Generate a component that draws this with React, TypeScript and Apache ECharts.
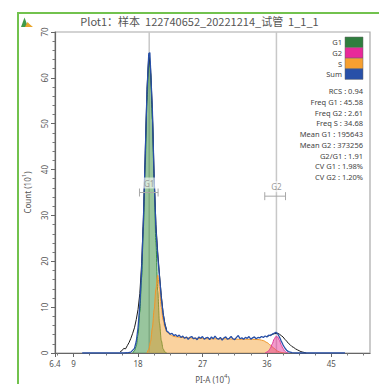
import React, { useEffect, useRef } from "react";
import * as echarts from "echarts";

const titleText = "Plot1：样本  122740652_20221214_试管  1_1_1";
const X_MIN = 6.4;
const X_MAX = 50.4;
const Y_MAX = 70;
const xTickValues = [6.4, 9, 18, 27, 36, 45];
const xMinorTicks = [6.75, 11.25, 13.5, 15.75, 20.25, 22.5, 24.75, 29.25, 31.5, 33.75, 38.25, 40.5, 42.75, 47.25, 49.5];

// Sum (blue) histogram
const sumCurve: number[][] = [
  [10.2, 0], [12, 0], [14, 0], [15, 0], [16, 0], [16.5, 0.05], [17, 0.2], [17.5, 1.0], [17.75, 2.5],
  [18, 5.5], [18.25, 10.5], [18.5, 18], [18.75, 29], [19, 43], [19.25, 57], [19.5, 65.3], [19.65, 65.5],
  [19.75, 62], [20, 53], [20.25, 38], [20.5, 27], [20.75, 21], [21, 16.5], [21.25, 12], [21.5, 8.5],
  [21.75, 6.2], [22, 4.8], [22.25, 4.5], [22.5, 4.1], [22.75, 4.3], [23, 3.8], [23.25, 4.0], [23.5, 3.6],
  [23.75, 3.9], [24, 3.4], [24.25, 3.7], [24.5, 3.2], [24.75, 3.5], [25, 3.0], [25.25, 3.4], [25.5, 3.6],
  [25.75, 3.1], [26, 3.3], [26.25, 2.9], [26.5, 3.5], [26.75, 3.2], [27, 3.6], [27.25, 3.0], [27.5, 3.3],
  [27.75, 3.4], [28, 2.9], [28.25, 3.5], [28.5, 3.1], [28.75, 3.7], [29, 3.2], [29.25, 3.0], [29.5, 3.4],
  [29.75, 2.8], [30, 3.3], [30.25, 3.5], [30.5, 3.0], [30.75, 3.2], [31, 3.6], [31.25, 3.1], [31.5, 2.9],
  [31.75, 3.4], [32, 3.8], [32.25, 3.1], [32.5, 3.3], [32.75, 3.0], [33, 3.4], [33.25, 3.2], [33.5, 3.6],
  [33.75, 3.0], [34, 3.3], [34.25, 3.5], [34.5, 3.1], [34.75, 3.4], [35, 3.3], [35.25, 3.6], [35.5, 3.4],
  [35.75, 3.7], [36, 3.5], [36.25, 3.9], [36.5, 3.8], [36.75, 4.1], [37, 4.3], [37.25, 4.5], [37.5, 4.2],
  [37.75, 3.5], [38, 2.6], [38.25, 1.8], [38.5, 1.1], [38.75, 0.6], [39, 0.3], [39.5, 0.1], [40, 0],
  [44, 0], [46.9, 0],
];

// Raw data (black) – visible at feet of the peaks
const rawCurve: (number | null)[][] = [
  [15.5, 0.3], [15.75, 0.5], [16, 1.0], [16.25, 0.9], [16.5, 1.6], [16.75, 2.3], [17, 3.2], [17.25, 4.3],
  [17.5, 5.5], [17.75, 7.3], [18, 9.5], [18.25, 13], [18.5, 19.5], [18.75, 29.5], [19, 43.5], [19.25, 57.5],
  [19.5, 65], [19.75, 62], [20, 53], [20.25, 38.5], [20.5, 28], [20.75, 22], [21, 17], [21.25, 12.5],
  [21.5, 8.8], [21.75, 6.4], [22, 5.0], [29, null], [36, 3.6], [36.5, 3.9], [37, 4.2], [37.5, 4.3],
  [37.75, 4.1], [38, 3.8], [38.25, 3.5], [38.5, 3.0], [38.75, 2.6], [39, 2.1], [39.25, 1.8], [39.5, 1.4],
  [39.75, 1.2], [40, 0.9], [40.25, 0.7], [40.5, 0.5], [40.75, 0.3], [41, 0.2], [41.5, 0],
];

// G1 fit (green)
const g1Curve: number[][] = [
  [17.25, 0], [17.5, 0.5], [17.75, 1.5], [18, 4], [18.25, 9], [18.5, 16.5], [18.75, 27.5], [19, 41],
  [19.25, 55], [19.5, 63.5], [19.6, 64.5], [19.75, 61], [20, 51], [20.25, 37], [20.5, 24], [20.75, 13.5],
  [21, 6.5], [21.25, 2.7], [21.5, 0.9], [21.75, 0.2], [22, 0],
];

// S fit (orange)
const sCurve: number[][] = [
  [19.25, 0], [19.5, 0.8], [19.75, 2.5], [20, 5.5], [20.25, 9.5], [20.5, 14], [20.75, 17], [21, 14],
  [21.25, 10], [21.5, 7.2], [21.75, 5.6], [22, 4.6], [22.5, 4.0], [23, 3.6], [24, 3.4], [26, 3.2],
  [28, 3.1], [30, 3.1], [32, 3.0], [34, 3.0], [35, 2.9], [35.5, 2.7], [36, 2.3], [36.5, 1.7], [37, 1.0],
  [37.5, 0.4], [38, 0.1], [38.5, 0],
];

// G2 fit (pink)
const g2Curve: number[][] = [
  [35.75, 0], [36, 0.2], [36.25, 0.5], [36.5, 1.1], [36.75, 2.0], [37, 3.0], [37.25, 3.6], [37.5, 3.5],
  [37.75, 2.8], [38, 1.8], [38.25, 1.0], [38.5, 0.4], [38.75, 0.1], [39, 0],
];

const gateNames = ["G1", "G2"];
const gateCenters = [19.56, 37.33];
const gateLow = [18.2, 35.7];
const gateHigh = [20.8, 38.6];
const gateLevel = [35.0, 34.2];

const legendNames = ["G1", "G2", "S", "Sum"];
const legendColors = ["#2f7d3e", "#e8299a", "#f7a030", "#2850a8"];
const statLines = [
  "RCS : 0.94",
  "Freq G1 : 45.58",
  "Freq G2 : 2.61",
  "Freq S : 34.68",
  "Mean G1 : 195643",
  "Mean G2 : 373256",
  "G2/G1 : 1.91",
  "CV G1 : 1.98%",
  "CV G2 : 1.20%",
];

const FONT = "'Noto Sans', 'DejaVu Sans', sans-serif";

export default function App() {
  const ref = useRef<HTMLDivElement>(null);
  useEffect(() => {
    if (!ref.current) return;
    const chart = echarts.init(ref.current, undefined, { renderer: "svg" });

    const graphics: any[] = [
      {
        type: "rect",
        shape: { x: 18, y: 13, width: 380, height: 390 },
        style: { fill: "none", stroke: "#72c24e", lineWidth: 2 },
        z: 100,
      },
      {
        type: "polygon",
        shape: { points: [[21, 27], [24.5, 17.5], [28, 27]] },
        style: { fill: "#3f9a4a" },
      },
      {
        type: "polygon",
        shape: { points: [[25, 27], [27.5, 22], [30, 24.5], [33, 27]] },
        style: { fill: "#e9a52a" },
      },
      {
        type: "text",
        x: 199.5,
        y: 21,
        style: {
          text: titleText,
          font: "11px 'Noto Sans CJK SC', sans-serif",
          fill: "#555",
          align: "center",
          verticalAlign: "middle",
        },
      },
    ];
    legendNames.forEach((n, i) => {
      const top = 37 + i * 10.6;
      graphics.push({
        type: "rect",
        shape: { x: 345, y: top, width: 18, height: 10.6 },
        style: { fill: legendColors[i], stroke: "#666", lineWidth: 0.5 },
      });
      graphics.push({
        type: "text",
        x: 342,
        y: top + 5.3,
        style: { text: n, font: `7.5px ${FONT}`, fill: "#444", align: "right", verticalAlign: "middle" },
      });
    });
    statLines.forEach((t, i) => {
      graphics.push({
        type: "text",
        x: 363,
        y: 91 + i * 10.75,
        style: { text: t, font: `7.5px ${FONT}`, fill: "#444", align: "right", verticalAlign: "middle" },
      });
    });

    const areaLine = (name: string, data: any[], line: string, fill: string, z: number) => ({
      name,
      type: "line",
      data,
      symbol: "none",
      showSymbol: false,
      smooth: 0.3,
      smoothMonotone: "x",
      lineStyle: { color: line, width: 1 },
      areaStyle: { color: fill },
      itemStyle: { color: line },
      z,
    });

    chart.setOption({
      animation: false,
      backgroundColor: "#fff",
      grid: {
        left: 55,
        right: 9,
        top: 32,
        bottom: 31,
        show: true,
        borderColor: "#a8a8a8",
        borderWidth: 1.2,
        containLabel: false,
        outerBoundsMode: "none",
      },
      xAxis: [
        {
          type: "value",
          min: X_MIN,
          max: X_MAX,
          position: "bottom",
          splitLine: { show: false },
          axisLine: { lineStyle: { color: "#666", width: 1.2 } },
          axisTick: { customValues: xTickValues, length: 4, lineStyle: { color: "#666" } },
          axisLabel: {
            customValues: xTickValues,
            fontSize: 8,
            color: "#555",
            fontFamily: FONT,
            margin: 6,
            formatter: (v: number) => String(v),
          },
          name: "PI-A (10{sup|4})",
          nameLocation: "middle",
          nameGap: 20,
          nameTextStyle: {
            fontSize: 8,
            color: "#555",
            fontFamily: FONT,
            rich: { sup: { fontSize: 6, verticalAlign: "top", padding: [0, 0, 6, 0], color: "#555" } },
          },
        },
        {
          type: "value",
          min: X_MIN,
          max: X_MAX,
          position: "bottom",
          splitLine: { show: false },
          axisLine: { show: false },
          axisLabel: { show: false },
          axisTick: { customValues: xMinorTicks, length: 2.5, lineStyle: { color: "#777" } },
        },
      ],
      yAxis: {
        type: "value",
        min: 0,
        max: Y_MAX,
        interval: 10,
        splitLine: { show: false },
        axisLine: { show: true, lineStyle: { color: "#666", width: 1.2 } },
        axisTick: { show: true, length: 4, lineStyle: { color: "#666" } },
        minorTick: { show: true, splitNumber: 5, length: 2.5, lineStyle: { color: "#777" } },
        axisLabel: { rotate: 90, fontSize: 8, color: "#555", fontFamily: FONT, margin: 7 },
        name: "Count (10{sup|1})",
        nameLocation: "middle",
        nameRotate: 90,
        nameGap: 22,
        nameTextStyle: {
          fontSize: 8,
          color: "#555",
          fontFamily: FONT,
          rich: { sup: { fontSize: 6, verticalAlign: "top", padding: [0, 0, 6, 0], color: "#555" } },
        },
      },
      graphic: graphics,
      series: [
        {
          type: "custom",
          name: "gateLines",
          data: gateCenters.map((c) => [c, 0]),
          z: 1,
          renderItem: (params: any, api: any) => {
            const c = api.value(0);
            const p0 = api.coord([c, 0]);
            const p1 = api.coord([c, Y_MAX]);
            return {
              type: "line",
              shape: { x1: p0[0], y1: p0[1], x2: p1[0], y2: p1[1] },
              style: { stroke: "#c8c8c8", lineWidth: 1.5 },
            };
          },
        },
        areaLine("G1", g1Curve, "#2f8a3e", "rgba(52,140,62,0.72)", 2),
        areaLine("S", sCurve, "#f0962a", "rgba(245,160,50,0.68)", 3),
        areaLine("G2", g2Curve, "#de3a97", "rgba(230,50,150,0.7)", 4),
        {
          name: "Raw",
          type: "line",
          data: rawCurve,
          symbol: "none",
          connectNulls: false,
          lineStyle: { color: "#1a1a1a", width: 1 },
          z: 5,
        },
        {
          name: "Sum",
          type: "line",
          data: sumCurve,
          symbol: "none",
          lineStyle: { color: "#2850a8", width: 1.3 },
          z: 6,
        },
        {
          type: "custom",
          name: "gates",
          data: gateCenters.map((c, i) => [c, gateLow[i], gateHigh[i], gateLevel[i]]),
          encode: { x: 0, y: 3 },
          z: 10,
          renderItem: (params: any, api: any) => {
            const i = params.dataIndex;
            const c = api.value(0);
            const lv = api.value(3);
            const p = api.coord([c, lv]);
            const pl = api.coord([api.value(1), lv]);
            const ph = api.coord([api.value(2), lv]);
            const stroke = "#a8a8a8";
            return {
              type: "group",
              children: [
                { type: "line", shape: { x1: pl[0], y1: p[1], x2: ph[0], y2: p[1] }, style: { stroke, lineWidth: 1 } },
                { type: "line", shape: { x1: pl[0], y1: p[1] - 4, x2: pl[0], y2: p[1] + 4 }, style: { stroke, lineWidth: 1 } },
                { type: "line", shape: { x1: ph[0], y1: p[1] - 4, x2: ph[0], y2: p[1] + 4 }, style: { stroke, lineWidth: 1 } },
                {
                  type: "rect",
                  shape: { x: p[0] - 7.5, y: p[1] - 15, width: 15, height: 11 },
                  style: { fill: "rgba(255,255,255,0.6)" },
                },
                {
                  type: "text",
                  x: p[0],
                  y: p[1] - 9.5,
                  style: {
                    text: gateNames[i],
                    font: `8px ${FONT}`,
                    fill: "#999",
                    align: "center",
                    verticalAlign: "middle",
                  },
                },
              ],
            };
          },
        },
      ],
    });
    return () => chart.dispose();
  }, []);
  return (
    <div
      ref={ref}
      style={{ position: "fixed", left: 0, top: 0, width: 379, height: 384, background: "#fff" }}
    />
  );
}
